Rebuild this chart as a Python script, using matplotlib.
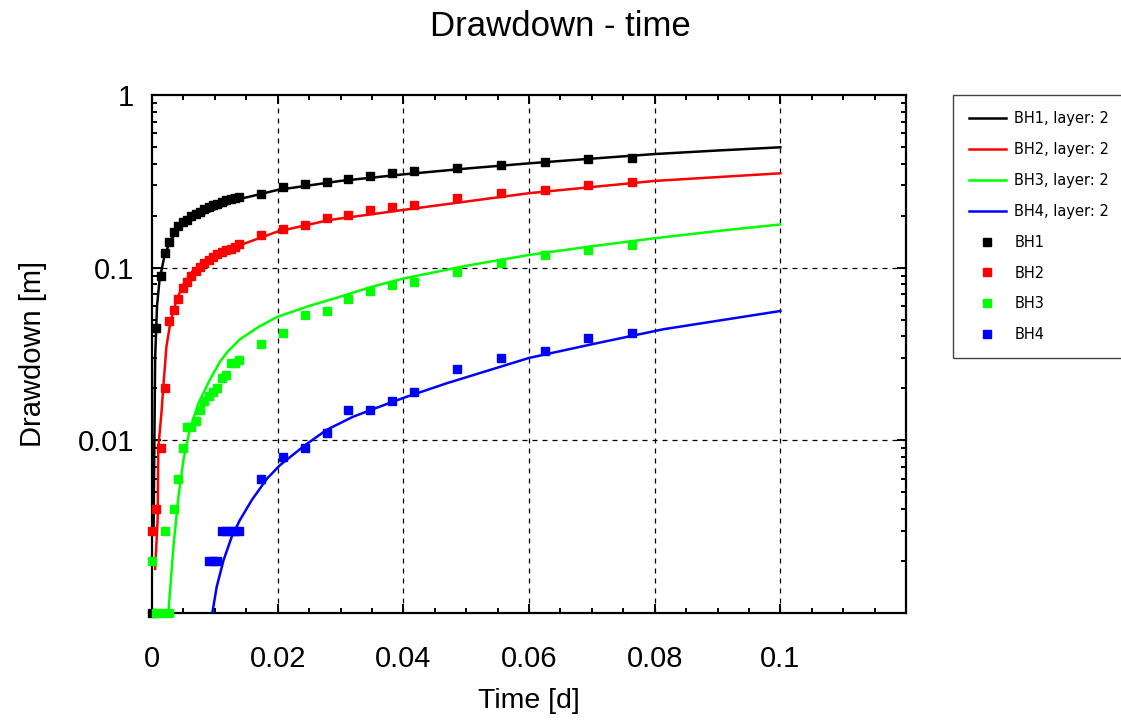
import numpy as np
import matplotlib
matplotlib.use("Agg")
import matplotlib.pyplot as plt
from matplotlib.ticker import FixedLocator, FixedFormatter, MultipleLocator, NullFormatter
from matplotlib.lines import Line2D

plt.rcParams['font.family'] = ['Liberation Sans', 'DejaVu Sans']

# observation times in minutes (converted to days below)
obs_min = [0, 1, 2, 3, 4, 5, 6, 7, 8, 9, 10, 11, 12, 13, 14, 15, 16, 17, 18, 19, 20,
           25, 30, 35, 40, 45, 50, 55, 60, 70, 80, 90, 100, 110]

bh1 = [0.001, 0.045, 0.090, 0.121, 0.140, 0.160, 0.175, 0.185, 0.190, 0.200, 0.205,
       0.211, 0.218, 0.224, 0.230, 0.235, 0.240, 0.245, 0.249, 0.253, 0.257,
       0.266, 0.294, 0.304, 0.315, 0.325, 0.340, 0.355, 0.363, 0.376, 0.392, 0.408, 0.424, 0.430]
bh2 = [0.003, 0.004, 0.009, 0.020, 0.049, 0.057, 0.066, 0.076, 0.083, 0.090, 0.096,
       0.101, 0.106, 0.111, 0.115, 0.120, 0.123, 0.127, 0.128, 0.132, 0.137,
       0.155, 0.167, 0.177, 0.193, 0.202, 0.216, 0.224, 0.231, 0.252, 0.270, 0.282, 0.301, 0.312]
bh3 = [0.002, 0.001, 0.001, 0.003, 0.001, 0.004, 0.006, 0.009, 0.012, 0.012, 0.013,
       0.015, 0.017, 0.018, 0.019, 0.020, 0.023, 0.024, 0.028, 0.028, 0.029,
       0.036, 0.042, 0.053, 0.056, 0.066, 0.073, 0.079, 0.083, 0.095, 0.107, 0.119, 0.127, 0.135]
bh4 = [np.nan, np.nan, np.nan, np.nan, np.nan, np.nan, np.nan, np.nan, np.nan, np.nan, np.nan,
       np.nan, np.nan, 0.002, 0.002, 0.002, 0.003, 0.003, 0.003, 0.003, 0.003,
       0.006, 0.008, 0.009, 0.011, 0.015, 0.015, 0.017, 0.019, 0.026, 0.030, 0.033, 0.039, 0.042]

# fitted curves (time in days, drawdown in m)
fit1_t = [0.00025, 0.0005, 0.0008, 0.0012, 0.0016, 0.002, 0.003, 0.004, 0.005, 0.0075, 0.01,
          0.014, 0.02, 0.03, 0.04, 0.05, 0.06, 0.07, 0.08, 0.09, 0.1]
fit1_s = [0.003, 0.03, 0.06, 0.085, 0.10, 0.118, 0.145, 0.163, 0.176, 0.200, 0.218,
          0.250, 0.282, 0.318, 0.347, 0.375, 0.402, 0.428, 0.455, 0.477, 0.498]
fit2_t = [0.0005, 0.0009, 0.001, 0.0015, 0.0018, 0.0023, 0.0029, 0.0039, 0.005, 0.0064, 0.008,
          0.01, 0.014, 0.02, 0.0283, 0.04, 0.06, 0.08, 0.1]
fit2_s = [0.0018, 0.0035, 0.009, 0.0144, 0.0205, 0.035, 0.0475, 0.065, 0.080, 0.095, 0.106,
          0.117, 0.135, 0.162, 0.189, 0.216, 0.270, 0.318, 0.352]
fit3_t = [0.0026, 0.0034, 0.0042, 0.005, 0.006, 0.0074, 0.0092, 0.0108, 0.012, 0.014, 0.017,
          0.02, 0.025, 0.03, 0.035, 0.04, 0.05, 0.06, 0.07, 0.08, 0.09, 0.1]
fit3_s = [0.001, 0.0024, 0.0047, 0.0077, 0.0115, 0.0164, 0.0224, 0.0285, 0.0325, 0.0385, 0.0455,
          0.052, 0.060, 0.068, 0.0775, 0.0865, 0.1025, 0.1185, 0.133, 0.148, 0.163, 0.178]
fit4_t = [0.0096, 0.0103, 0.0114, 0.0127, 0.014, 0.0159, 0.0183, 0.0204, 0.0244, 0.0278, 0.032,
          0.0363, 0.04, 0.0469, 0.06, 0.07, 0.0814, 0.1]
fit4_s = [0.001, 0.00142, 0.00203, 0.00277, 0.00346, 0.00452, 0.0060, 0.0072, 0.0094, 0.0115, 0.0137,
          0.0157, 0.0176, 0.0214, 0.030, 0.036, 0.044, 0.0561]

colors = ['#000000', '#ff0000', '#00ff00', '#0000ff']
fit_labels = ['BH1, layer: 2', 'BH2, layer: 2', 'BH3, layer: 2', 'BH4, layer: 2']
obs_labels = ['BH1', 'BH2', 'BH3', 'BH4']

t_obs = np.array(obs_min) / 1440.0

fig = plt.figure(figsize=(11.21, 7.2), dpi=100)
ax = fig.add_axes([152/1121, 1-613/720, (906-152)/1121, (613-95)/720])

fits = [(fit1_t, fit1_s), (fit2_t, fit2_s), (fit3_t, fit3_s), (fit4_t, fit4_s)]
for (ft, fs), c in zip(fits, colors):
    ax.plot(ft, fs, color=c, lw=1.8, zorder=3)
for s, c in zip([bh1, bh2, bh3, bh4], colors):
    ax.plot(t_obs, s, ls='none', marker='s', ms=5.8, mec=c, mfc=c, zorder=4, clip_on=False)

ax.set_yscale('log')
ax.set_xlim(0, 0.12)
ax.set_ylim(0.001, 1)

ax.xaxis.set_major_locator(FixedLocator([0, 0.02, 0.04, 0.06, 0.08, 0.1, 0.12]))
ax.xaxis.set_major_formatter(FixedFormatter(['0', '0.02', '0.04', '0.06', '0.08', '0.1', '']))
ax.xaxis.set_minor_locator(MultipleLocator(0.005))
ax.yaxis.set_major_locator(FixedLocator([0.001, 0.01, 0.1, 1]))
ax.yaxis.set_major_formatter(FixedFormatter(['', '0.01', '0.1', '1']))
minors = [m * 10.0**e for e in (-3, -2, -1) for m in range(2, 10)]
ax.yaxis.set_minor_locator(FixedLocator(minors))
ax.yaxis.set_minor_formatter(NullFormatter())

ax.tick_params(which='both', direction='in', top=True, right=True, width=1.4, colors='black')
ax.tick_params(which='major', length=6.5, labelsize=21)
ax.tick_params(which='minor', length=3.6)
ax.tick_params(axis='x', which='major', pad=23)
ax.tick_params(axis='y', which='major', pad=13)
for sp in ax.spines.values():
    sp.set_linewidth(1.6)

for x in [0.02, 0.04, 0.06, 0.08, 0.1]:
    ax.axvline(x, color='black', lw=0.9, ls=(0, (4, 4)), zorder=1)
for y in [0.01, 0.1]:
    ax.axhline(y, color='black', lw=0.9, ls=(0, (4, 4)), zorder=1)

ax.set_xlabel('Time [d]', fontsize=20.5, labelpad=11)
ax.set_ylabel('Drawdown [m]', fontsize=21, labelpad=22)
fig.suptitle('Drawdown - time', fontsize=25, y=0.986)

handles = [Line2D([], [], color=c, lw=1.8) for c in colors]
handles += [Line2D([], [], ls='none', marker='s', ms=6, mec=c, mfc=c) for c in colors]
leg = fig.legend(handles, fit_labels + obs_labels, loc='upper left',
                 bbox_to_anchor=(953/1121, 1-95/720), bbox_transform=fig.transFigure,
                 frameon=True, fancybox=False, edgecolor='#444444', framealpha=1,
                 borderpad=1.1, labelspacing=1.09, handlelength=2.5,
                 handletextpad=0.6, borderaxespad=0,
                 prop={'family': 'DejaVu Sans', 'size': 10.5})
leg.get_frame().set_linewidth(1.0)

fig.savefig('out.png', dpi=100)
